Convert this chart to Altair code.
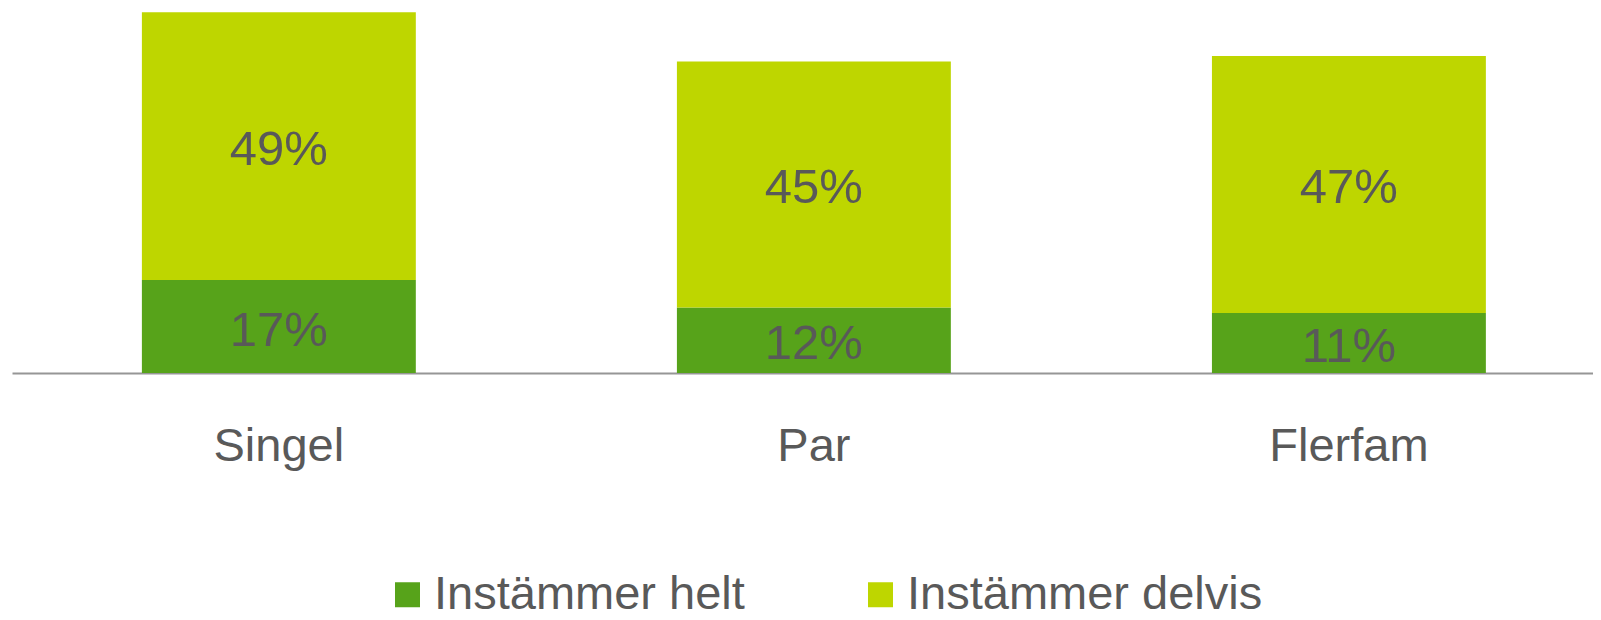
import altair as alt
import pandas as pd

categories = ["Singel", "Par", "Flerfam"]
series_names = ["Instämmer helt", "Instämmer delvis"]
helt = [17, 12, 11]
delvis = [49, 45, 47]
colors = ["#57A31A", "#BED600"]

rows = []
for i, c in enumerate(categories):
    rows.append({"cat": c, "serie": series_names[0], "val": helt[i], "ord": 0})
    rows.append({"cat": c, "serie": series_names[1], "val": delvis[i], "ord": 1})
df = pd.DataFrame(rows)

FONT = "Liberation Sans"
TXT = "#595959"

base = alt.Chart(df).transform_stack(
    stack="val", groupby=["cat"], as_=["y0", "y1"], sort=[alt.SortField("ord", order="ascending")]
).transform_calculate(
    mid="(datum.y0 + datum.y1) / 2",
    lbl="datum.val + '%'"
)

xenc = alt.X(
    "cat:N",
    sort=categories,
    title=None,
    scale=alt.Scale(paddingInner=0.488, paddingOuter=0.2215, align=0.548),
    axis=alt.Axis(
        domain=True, domainColor="#969696", domainWidth=2,
        ticks=False, tickSize=0, grid=False,
        labelAngle=0, labelFont=FONT, labelFontSize=47, labelColor=TXT,
        labelBaseline="alphabetic", labelPadding=87,
    ),
)
yscale = alt.Scale(domain=[0, 66.8], nice=False, zero=True)

bars = base.mark_bar().encode(
    x=xenc,
    y=alt.Y("y0:Q", scale=yscale, axis=None),
    y2="y1:Q",
    color=alt.Color(
        "serie:N",
        sort=series_names,
        scale=alt.Scale(domain=series_names, range=colors),
        legend=alt.Legend(
            title=None, orient="none", legendX=372, legendY=563,
            direction="horizontal", symbolType="square", symbolSize=625,
            symbolStrokeWidth=0, labelFont=FONT, labelFontSize=47,
            labelColor=TXT, columnPadding=112, labelOffset=3, padding=0,
            labelLimit=0,
        ),
    ),
)

labels = base.mark_text(font=FONT, fontSize=49, color=TXT, baseline="middle", align="center", dy=4).encode(
    x=alt.X("cat:N", sort=categories),
    y=alt.Y("mid:Q", scale=yscale),
    text="lbl:N",
)

chart = alt.layer(bars, labels).properties(
    width=1581, height=365,
    padding={"left": 4, "top": 0, "right": 0, "bottom": 255},
    autosize=alt.AutoSizeParams(type="none"),
).configure_view(stroke=None)

chart.save("out.html", embed_options={"renderer": "svg", "actions": False})
